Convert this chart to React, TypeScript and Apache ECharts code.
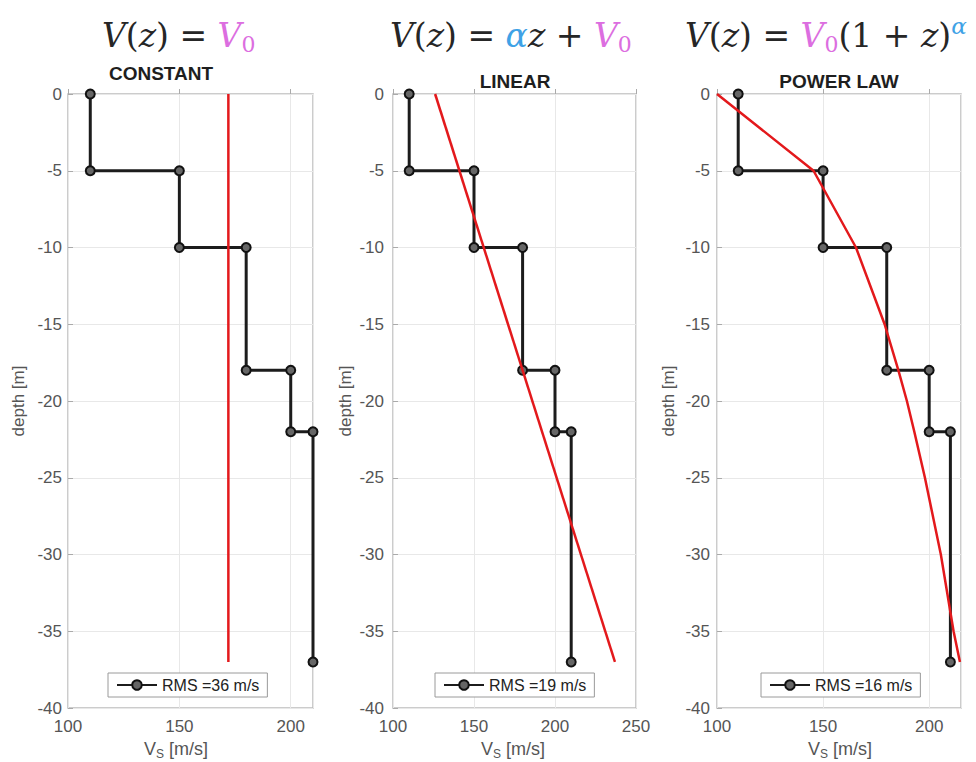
import React, { useEffect, useRef } from "react";
import * as echarts from "echarts";

// ---- data ----
const layerVs = [110, 150, 180, 200, 210];
const layerTop = [0, 5, 10, 18, 22];
const layerBottom = [5, 10, 18, 22, 37];

const constDepth = [0, 37];
const constVs = [172, 172];

const linearDepth = [0, 37];
const linearVs = [126, 237];

const powerDepth = [0, 5, 10, 15, 18, 20, 22, 25, 30, 35, 37];
const powerVs = [100, 145.5, 165.5, 179, 185.5, 189.5, 193, 198, 205.5, 211.5, 214.5];

const rmsLabels = ["RMS =36 m/s", "RMS =19 m/s", "RMS =16 m/s"];
const panelTitles = ["CONSTANT", "LINEAR", "POWER LAW"];
const xMin = 100;
const xMaxes = [210, 250, 215];
const xInterval = 50;
const yMin = -40;
const yMax = 0;
const yInterval = 5;

// ---- layout ----
const grids = [
  { left: 68, width: 245 },
  { left: 393, width: 243 },
  { left: 717, width: 244 },
];
const gridTop = 94;
const gridHeight = 614;
const yLabelMargins = [6, 9, 7];
const titlePos = [
  [161, 73],
  [515, 81],
  [839, 81],
];
const xNamePos = [176, 513, 840];
const yNameX = [18, 345, 668];
const legendCenters = [187, 514, 840];

const SANS = "'Liberation Sans', Arial, Helvetica, sans-serif";
const SERIF = "'DejaVu Serif', 'Liberation Serif', serif";
const PINK = "#dc6ee0";
const BLUE = "#3fa2e6";
const INK = "#262626";

function stairs() {
  const pts: number[][] = [];
  layerVs.forEach((v, i) => {
    pts.push([v, -layerTop[i]]);
    pts.push([v, -layerBottom[i]]);
  });
  return pts;
}

function pairs(vs: number[], depth: number[]) {
  return vs.map((v, i) => [v, -depth[i]]);
}

export default function App() {
  const ref = useRef<HTMLDivElement>(null);

  useEffect(() => {
    if (!ref.current) return;
    const chart = echarts.init(ref.current, undefined, { renderer: "svg" });
    const profile = stairs();
    const fits = [pairs(constVs, constDepth), pairs(linearVs, linearDepth), pairs(powerVs, powerDepth)];

    const FS = 33;
    const LH = 41;
    const mathRich = {
      i: { fontFamily: SERIF, fontStyle: "italic", fontSize: FS, fill: INK, lineHeight: LH },
      n: { fontFamily: SERIF, fontSize: FS, fill: INK, lineHeight: LH },
      pi: { fontFamily: SERIF, fontStyle: "italic", fontSize: FS, fill: PINK, lineHeight: LH },
      ps: { fontFamily: SERIF, fontSize: 22, fill: PINK, lineHeight: 22, verticalAlign: "bottom" },
      bi: { fontFamily: SERIF, fontStyle: "italic", fontSize: FS, fill: BLUE, lineHeight: LH },
      bs: { fontFamily: SERIF, fontStyle: "italic", fontSize: 23, fill: BLUE, lineHeight: 23, verticalAlign: "top" },
    };
    const formulas = [
      { x: 102, text: "{i|V}{n|(}{i|z}{n|) = }{pi|V}{ps|0}" },
      { x: 390, text: "{i|V}{n|(}{i|z}{n|) = }{bi|α}{i|z}{n| + }{pi|V}{ps|0}" },
      { x: 685, text: "{i|V}{n|(}{i|z}{n|) = }{pi|V}{ps|0}{n|(1 + }{i|z}{n|)}{bs|α}" },
    ];

    const graphic: any[] = [];
    formulas.forEach((f) => {
      graphic.push({
        type: "text",
        x: f.x,
        y: 35,
        style: { text: f.text, rich: mathRich, align: "left", verticalAlign: "middle" },
      });
    });
    panelTitles.forEach((t, k) => {
      graphic.push({
        type: "text",
        x: titlePos[k][0],
        y: titlePos[k][1],
        style: {
          text: t,
          fontFamily: SANS,
          fontWeight: "bold",
          fontSize: 19,
          fill: "#1e1e1e",
          align: "center",
          verticalAlign: "middle",
        },
      });
      graphic.push({
        type: "text",
        x: xNamePos[k],
        y: 749,
        style: {
          text: "{a|V}{s|S}{a| [m/s]}",
          rich: {
            a: { fontFamily: SANS, fontSize: 18, fill: "#555", lineHeight: 22 },
            s: { fontFamily: SANS, fontSize: 12, fill: "#555", lineHeight: 12, verticalAlign: "bottom" },
          },
          align: "center",
          verticalAlign: "middle",
        },
      });
      graphic.push({
        type: "text",
        x: yNameX[k],
        y: 401,
        rotation: Math.PI / 2,
        style: {
          text: "depth [m]",
          fontFamily: SANS,
          fontSize: 17,
          fill: "#555",
          align: "center",
          verticalAlign: "middle",
        },
      });
    });

    const option: any = {
      animation: false,
      backgroundColor: "#ffffff",
      grid: grids.map((g) => ({
        left: g.left,
        width: g.width,
        top: gridTop,
        height: gridHeight,
        show: true,
        borderColor: "#bcbcbc",
        borderWidth: 1.5,
        backgroundColor: "transparent",
      })),
      xAxis: grids.map((_, k) => ({
        type: "value",
        gridIndex: k,
        min: xMin,
        max: xMaxes[k],
        interval: xInterval,
        axisLine: { show: false },
        axisTick: { show: true, inside: true, length: 5, lineStyle: { color: "#aaa" } },
        splitLine: { show: true, lineStyle: { color: "#e8e8e8", width: 1 } },
        axisLabel: {
          showMaxLabel: xMaxes[k] % xInterval === 0,
          margin: 10,
          fontFamily: SANS,
          fontSize: 17,
          color: "#555",
        },
      })),
      yAxis: grids.map((_, k) => ({
        type: "value",
        gridIndex: k,
        min: yMin,
        max: yMax,
        interval: yInterval,
        axisLine: { show: false },
        axisTick: { show: true, inside: true, length: 5, lineStyle: { color: "#aaa" } },
        splitLine: { show: true, lineStyle: { color: "#e8e8e8", width: 1 } },
        axisLabel: {
          margin: yLabelMargins[k],
          fontFamily: SANS,
          fontSize: 17,
          color: "#555",
        },
      })),
      legend: rmsLabels.map((name, k) => ({
        data: [name],
        left: legendCenters[k] - 79,
        top: 673,
        orient: "horizontal",
        itemWidth: 40,
        itemHeight: 12,
        padding: [4, 8],
        borderColor: "#9a9a9a",
        borderWidth: 1,
        backgroundColor: "#ffffff",
        selectedMode: false,
        textStyle: { fontFamily: SANS, fontSize: 16, color: "#222" },
      })),
      series: [
        ...rmsLabels.map((name, k) => ({
          name,
          type: "line",
          xAxisIndex: k,
          yAxisIndex: k,
          data: profile,
          symbol: "circle",
          symbolSize: 9,
          showAllSymbol: true,
          lineStyle: { color: "#1c1c1c", width: 3 },
          itemStyle: { color: "#666", borderColor: "#111", borderWidth: 2 },
          z: 2,
        })),
        ...fits.map((d, k) => ({
          name: "fit" + k,
          type: "line",
          xAxisIndex: k,
          yAxisIndex: k,
          data: d,
          symbol: "none",
          lineStyle: { color: "#e3191c", width: 2.5 },
          z: 3,
        })),
      ],
      graphic,
    };

    chart.setOption(option);
    return () => chart.dispose();
  }, []);

  return (
    <div
      ref={ref}
      style={{ position: "absolute", left: 0, top: 0, width: 976, height: 762, background: "#fff" }}
    />
  );
}
